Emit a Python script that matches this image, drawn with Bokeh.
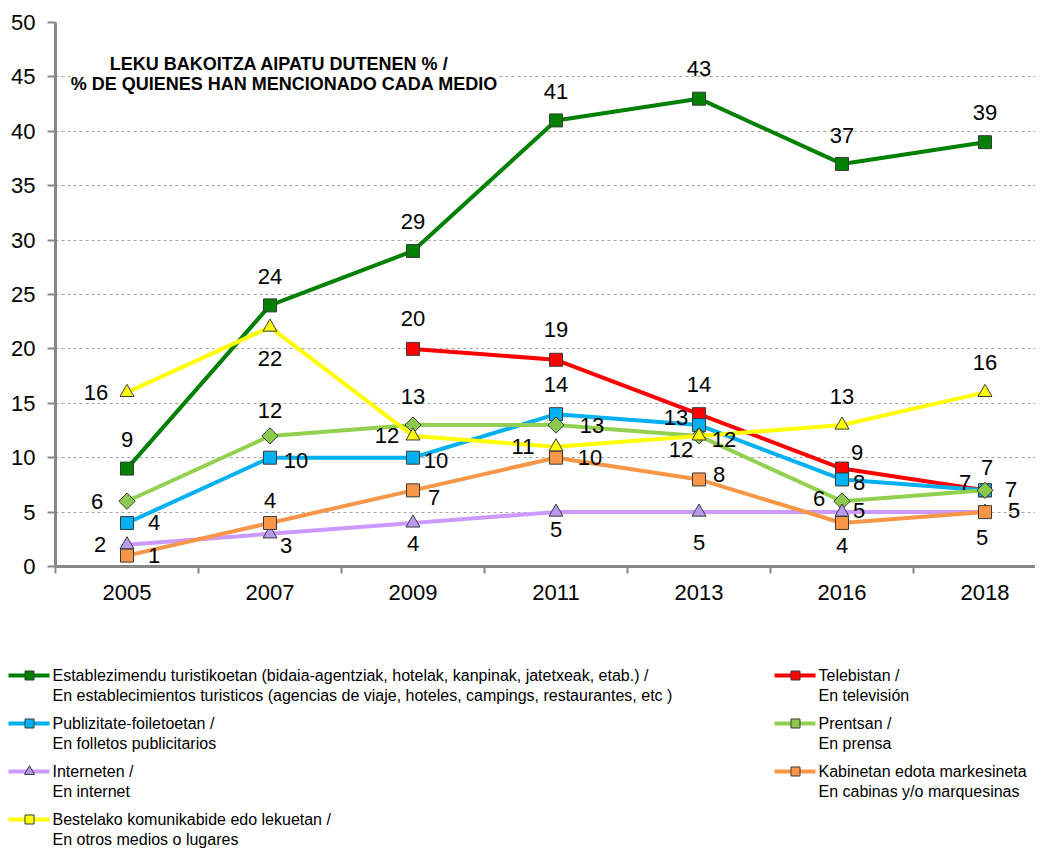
from bokeh.plotting import figure
from bokeh.models import Range1d, FixedTicker, Label, ColumnDataSource
from bokeh.layouts import column
from bokeh.embed import file_html
from bokeh.resources import INLINE
from bokeh.core.properties import value
import math

# ---------------- data ----------------
years = ["2005", "2007", "2009", "2011", "2013", "2016", "2018"]
nan = float("nan")
establecimientos = [9, 24, 29, 41, 43, 37, 39]
television = [nan, nan, 20, 19, 14, 9, 7]
folletos = [4, 10, 10, 14, 13, 8, 7]
prensa = [6, 12, 13, 13, 12, 6, 7]
internet = [2, 3, 4, 5, 5, 5, 5]
cabinas = [1, 4, 7, 10, 8, 4, 5]
otros = [16, 22, 12, 11, 12, 13, 16]

labels_eu = [
    "Establezimendu turistikoetan (bidaia-agentziak, hotelak, kanpinak, jatetxeak, etab.) /",
    "Telebistan /",
    "Publizitate-foiletoetan /",
    "Prentsan /",
    "Interneten /",
    "Kabinetan edota markesineta",
    "Bestelako komunikabide edo lekuetan /",
]
labels_es = [
    "En establecimientos turisticos (agencias de viaje, hoteles, campings, restaurantes, etc )",
    "En televisión",
    "En folletos publicitarios",
    "En prensa",
    "En internet",
    "En cabinas y/o marquesinas",
    "En otros medios o lugares",
]
title_lines = ["LEKU BAKOITZA  AIPATU  DUTENEN % /", "% DE QUIENES HAN MENCIONADO CADA MEDIO"]

# ---------------- styles ----------------
FONT = "Liberation Sans"
AX = "#878787"
series_values = [establecimientos, television, folletos, prensa, internet, cabinas, otros]
line_colors = ["#008000", "#FF0000", "#00B0F0", "#92D050", "#CC99FF", "#F79646", "#FFFF00"]
fill_colors = ["#008000", "#FF0000", "#00B0F0", "#8CC84B", "#B99AEE", "#F79646", "#FFFF00"]
markers = ["square", "square", "square", "square", "triangle", "square", "triangle"]
msizes = [13, 13, 13, 11.5, 14, 13, 14]
mangles = [0, 0, 0, math.pi / 4, 0, 0, 0]
legend_markers = ["square", "square", "square", "square", "triangle", "square", "square"]
# data label offsets in px (right, up)
label_offsets = [
    [(0, 29), (0, 29), (0, 29), (0, 29), (0, 30), (0, 28), (0, 30)],
    [None, None, (0, 30), (0, 30), (0, 30), (15, 16), (2, 23)],
    [(27, 0), (26, -3), (23, -3), (0, 30), (-23, 8), (17, -3), (-20, 8)],
    [(-30, 0), (0, 25), (0, 29), (36, 0), (25, -4), (-23, 3), (26, 1)],
    [(-27, 0), (16, -12), (0, -21), (0, -17), (0, -30), (17, 2), (-3, -25)],
    [(27, 0), (0, 22), (21, -7), (34, 0), (20, 5), (0, -23), (29, 2)],
    [(-31, 0), (0, -31), (-26, 0), (-33, 0), (-18, -14), (0, 29), (0, 30)],
]

W = 1035
LEFT, TOP, FRAME_BOTTOM, H1 = 55, 22, 566, 608
CAT_W = 143.0
FRAME_W = W - LEFT
xs = [i + 0.5 for i in range(len(years))]

p = figure(width=W, height=H1, x_range=Range1d(0, FRAME_W / CAT_W), y_range=Range1d(0, 50),
           output_backend="svg", toolbar_location=None,
           min_border_left=LEFT, min_border_right=0, min_border_top=TOP,
           min_border_bottom=H1 - FRAME_BOTTOM)
p.outline_line_color = None
p.background_fill_color = "white"
p.border_fill_color = "white"

xa = p.xaxis[0]
xa.ticker = FixedTicker(ticks=xs, minor_ticks=list(range(len(years))))
xa.major_label_overrides = {x: y for x, y in zip(xs, years)}
xa.major_tick_out = 0
xa.major_tick_in = 0
xa.minor_tick_out = 7
xa.minor_tick_in = 0
xa.minor_tick_line_color = AX
xa.minor_tick_line_width = 2
xa.axis_line_color = AX
xa.axis_line_width = 3
xa.major_label_text_font = FONT
xa.major_label_text_font_size = "22px"
xa.major_label_text_color = "black"
xa.major_label_standoff = 11

ya = p.yaxis[0]
ya.ticker = FixedTicker(ticks=list(range(0, 51, 5)))
ya.major_tick_out = 8
ya.major_tick_in = 0
ya.minor_tick_out = 0
ya.minor_tick_in = 0
ya.major_tick_line_color = AX
ya.major_tick_line_width = 2
ya.axis_line_color = AX
ya.axis_line_width = 3
ya.major_label_text_font = FONT
ya.major_label_text_font_size = "22px"
ya.major_label_text_color = "black"
ya.major_label_standoff = 12

p.xgrid.visible = False
p.ygrid.ticker = FixedTicker(ticks=list(range(5, 51, 5)))
p.ygrid.grid_line_color = "#A6A6A6"
p.ygrid.grid_line_dash = "3 3"
p.ygrid.grid_line_width = 1

for i, vals in enumerate(series_values):
    p.line(xs, vals, line_color=line_colors[i], line_width=4)
    p.scatter(xs, vals, marker=markers[i], size=msizes[i], angle=mangles[i],
              fill_color=fill_colors[i], line_color="#3A3A3A", line_width=1)

lx, ly, lt, lxo, lyo = [], [], [], [], []
for i, vals in enumerate(series_values):
    for j, v in enumerate(vals):
        if v != v:
            continue
        dx, dy = label_offsets[i][j]
        lx.append(xs[j]); ly.append(v); lt.append(str(int(v)))
        lxo.append(dx); lyo.append(-dy)
src = ColumnDataSource(dict(x=lx, y=ly, text=lt, xo=lxo, yo=lyo))
p.text(x="x", y="y", text="text", x_offset="xo", y_offset="yo", source=src,
       text_font=value(FONT), text_font_size=value("22px"), text_color="black",
       text_align="center", text_baseline="middle")

for k, (t, yy) in enumerate(zip(title_lines, [46.23, 44.39])):
    p.add_layout(Label(x=1.60, y=yy, text=t, text_font=FONT, text_font_size="18px",
                       text_font_style="bold", text_color="black",
                       text_align="center", text_baseline="middle",
                       background_fill_color="white" if k == 1 else None))

# ---------------- legend figure ----------------
H2 = 848 - H1
q = figure(width=W, height=H2, x_range=Range1d(0, W), y_range=Range1d(H2, 0),
           x_axis_type=None, y_axis_type=None, output_backend="svg", toolbar_location=None,
           min_border=0)
q.outline_line_color = None
q.grid.visible = False
for fig in (p, q):
    if "frame_align" in fig.properties():
        fig.frame_align = False

col_x = [8, 774]
row_y0, row_dy, line_gap = 675 - H1, 48, 20
for i in range(len(series_values)):
    cx = col_x[i % 2]
    ry = row_y0 + (i // 2) * row_dy
    q.segment(x0=[cx], y0=[ry], x1=[cx + 41], y1=[ry], line_color=line_colors[i], line_width=4)
    q.scatter([cx + 21], [ry], marker=legend_markers[i], size=9 if legend_markers[i] == "square" else 10,
              fill_color=fill_colors[i], line_color="#3A3A3A", line_width=1)
    q.text(x=[cx + 44, cx + 44], y=[ry, ry + line_gap], text=[labels_eu[i], labels_es[i]],
           text_font=value(FONT), text_font_size=value("16px"), text_color="black",
           text_align="left", text_baseline="middle")

layout = column(p, q, spacing=0)
open("out.html", "w").write(file_html(layout, INLINE))
